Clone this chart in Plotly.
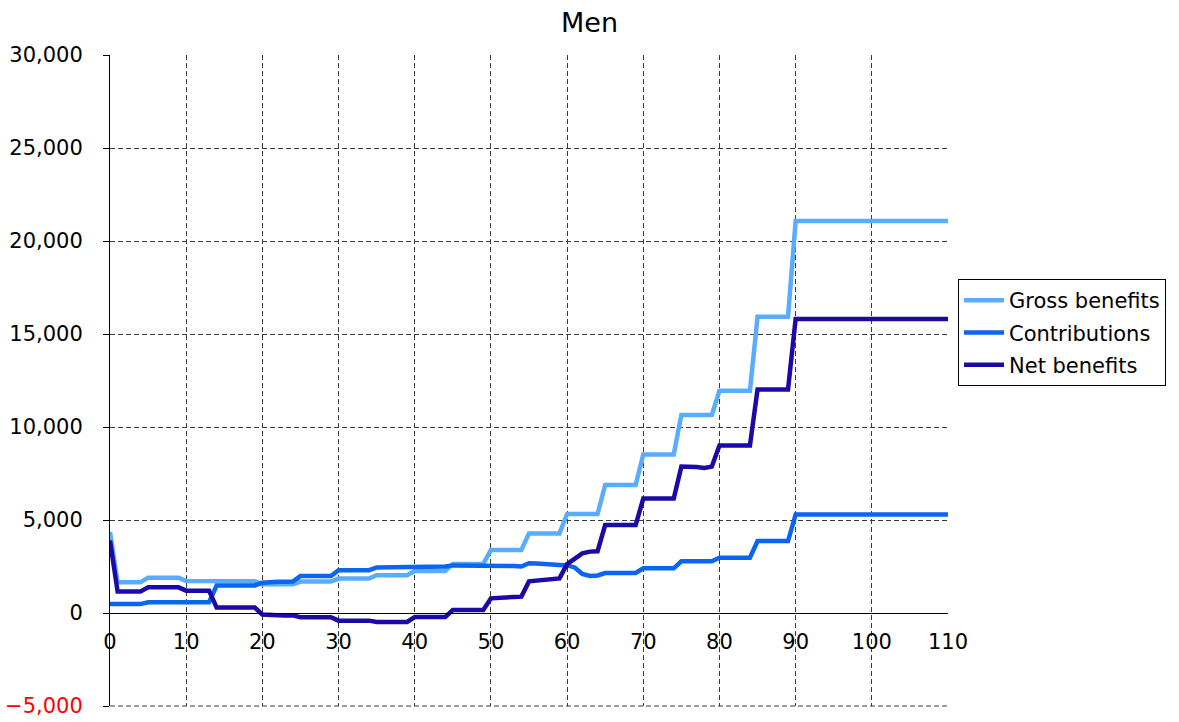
import plotly.graph_objects as go

# Age in single years, 0 to 110
ages = list(range(0, 111))

gross_benefits = [
    4350, 1650, 1650, 1650, 1650, 1900, 1900, 1900, 1900, 1900,
    1720, 1720, 1720, 1720, 1720, 1710, 1710, 1710, 1710, 1710,
    1550, 1550, 1550, 1550, 1550, 1690, 1690, 1690, 1690, 1690,
    1850, 1850, 1850, 1850, 1850, 2030, 2030, 2030, 2030, 2030,
    2260, 2260, 2260, 2260, 2260, 2640, 2640, 2640, 2640, 2640,
    3390, 3390, 3390, 3390, 3390, 4280, 4280, 4280, 4280, 4280,
    5320, 5320, 5320, 5320, 5320, 6880, 6880, 6880, 6880, 6880,
    8520, 8520, 8520, 8520, 8520, 10650, 10650, 10650, 10650, 10650,
    11950, 11950, 11950, 11950, 11950, 15930, 15930, 15930, 15930, 15930,
    21075, 21075, 21075, 21075, 21075, 21075, 21075, 21075, 21075, 21075,
    21075, 21075, 21075, 21075, 21075, 21075, 21075, 21075, 21075, 21075,
    21075,
]

contributions = [
    480, 480, 480, 480, 480, 580, 580, 580, 580, 580,
    580, 580, 580, 580, 1480, 1480, 1480, 1480, 1480, 1480,
    1630, 1680, 1680, 1680, 1690, 1990, 1990, 1990, 1990, 1990,
    2300, 2300, 2300, 2300, 2300, 2450, 2450, 2450, 2450, 2460,
    2500, 2500, 2500, 2500, 2500, 2560, 2560, 2560, 2560, 2560,
    2560, 2570, 2560, 2530, 2500, 2680, 2660, 2620, 2600, 2580,
    2560, 2450, 2100, 1990, 2020, 2150, 2150, 2150, 2150, 2150,
    2400, 2400, 2400, 2400, 2400, 2780, 2780, 2780, 2780, 2780,
    2970, 2970, 2970, 2970, 2970, 3870, 3870, 3870, 3870, 3870,
    5300, 5300, 5300, 5300, 5300, 5300, 5300, 5300, 5300, 5300,
    5300, 5300, 5300, 5300, 5300, 5300, 5300, 5300, 5300, 5300,
    5300,
]

net_benefits = [
    3900, 1150, 1150, 1150, 1150, 1380, 1380, 1380, 1380, 1380,
    1200, 1200, 1200, 1200, 290, 290, 290, 290, 290, 290,
    -80, -120, -120, -130, -130, -230, -230, -230, -230, -230,
    -410, -410, -410, -410, -410, -480, -480, -480, -480, -480,
    -220, -220, -220, -220, -220, 160, 160, 160, 160, 160,
    790, 800, 820, 860, 880, 1700, 1740, 1760, 1800, 1860,
    2630, 2940, 3210, 3300, 3320, 4730, 4730, 4730, 4730, 4730,
    6150, 6150, 6150, 6150, 6150, 7870, 7870, 7850, 7800, 7870,
    9000, 9000, 9000, 9000, 9000, 12020, 12020, 12020, 12020, 12020,
    15800, 15800, 15800, 15800, 15800, 15800, 15800, 15800, 15800, 15800,
    15800, 15800, 15800, 15800, 15800, 15800, 15800, 15800, 15800, 15800,
    15800,
]

x_ticks = list(range(0, 111, 10))
y_ticks = [-5000, 0, 5000, 10000, 15000, 20000, 25000, 30000]
y_tick_text = [
    '<span style="color:#FF0000">\u22125,000</span>',
    "0", "5,000", "10,000", "15,000", "20,000", "25,000", "30,000",
]

series = [
    ("Gross benefits", gross_benefits, "#5AACFF"),
    ("Contributions", contributions, "#0A66F2"),
    ("Net benefits", net_benefits, "#1C0AA6"),
]

FONT = "DejaVu Sans"
grid_color = "#3a3a3a"
grid_dash = "5px,3px"

fig = go.Figure()
for name, values, color in series:
    fig.add_trace(go.Scatter(
        x=ages, y=values, name=name, mode="lines",
        line=dict(color=color, width=4.5),
        legendgroup=name,
    ))

fig.update_layout(
    width=1179, height=722,
    margin=dict(l=110, r=231, t=55, b=16),
    paper_bgcolor="white", plot_bgcolor="white",
    font=dict(family=FONT, size=21, color="black"),
    title=dict(text="Men", x=0.5, xanchor="center", y=1 - 23 / 722,
               yanchor="middle", font=dict(family=FONT, size=27, color="black")),
    legend=dict(
        x=(958 - 110) / 838, y=(706 - 279) / 651, xanchor="left", yanchor="top",
        bordercolor="black", borderwidth=1, bgcolor="white",
        font=dict(family=FONT, size=21, color="black"),
        tracegroupgap=2, itemwidth=40,
    ),
    showlegend=True,
    # dashed gridline along the lower edge of the plotting area
    shapes=[dict(type="line", xref="x domain", yref="y domain",
                 x0=0, x1=1, y0=0, y1=0, layer="below",
                 line=dict(color=grid_color, width=1, dash=grid_dash))],
)

# x axis drawn across the chart at the zero level of the y axis
fig.update_xaxes(
    range=[0, 110], tickvals=x_ticks, ticktext=[str(v) for v in x_ticks],
    anchor="free", position=5000 / 35000, automargin=False,
    showline=True, linecolor="black", linewidth=1,
    ticks="", ticklabelstandoff=10,
    showgrid=True, gridcolor=grid_color, gridwidth=1, griddash=grid_dash,
    zeroline=False,
)
fig.update_yaxes(
    range=[-5000, 30000], tickvals=y_ticks, ticktext=y_tick_text,
    automargin=False,
    showline=True, linecolor="black", linewidth=1,
    ticks="outside", ticklen=6, tickcolor="black", ticklabelstandoff=16,
    showgrid=True, gridcolor=grid_color, gridwidth=1, griddash=grid_dash,
    zeroline=False,
)

fig.write_html("out.html")
